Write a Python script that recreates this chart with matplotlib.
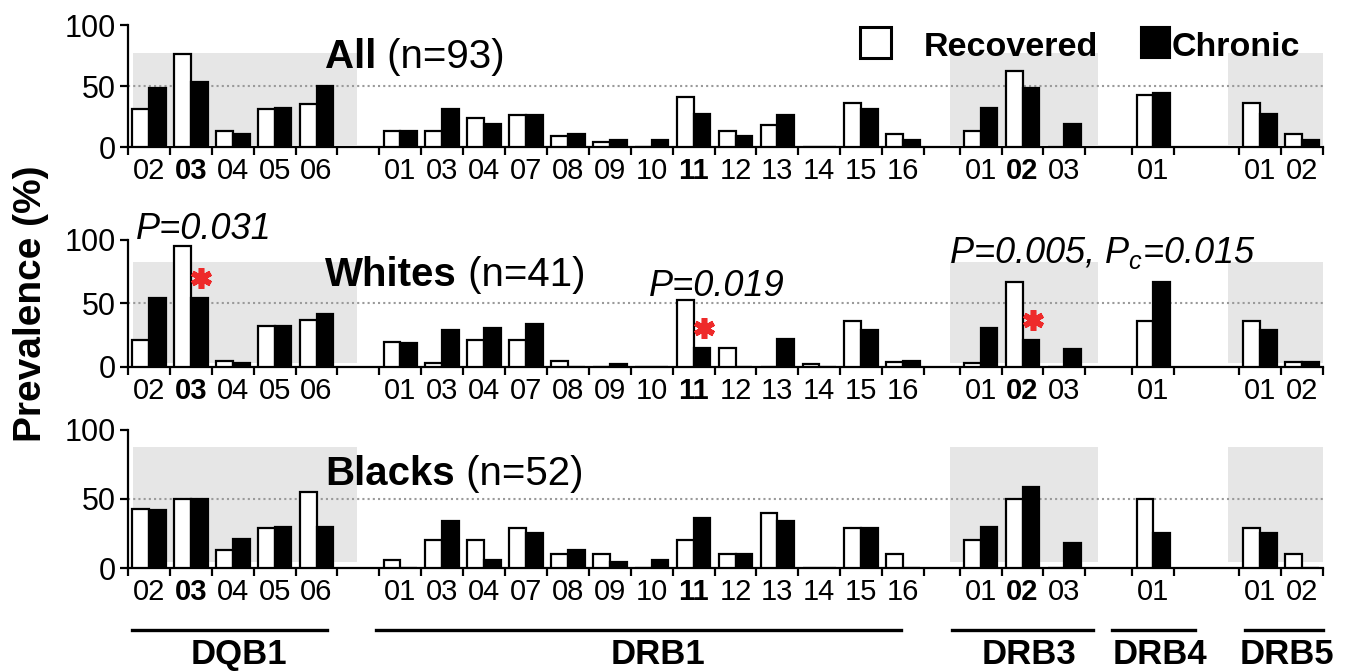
import matplotlib
matplotlib.use("Agg")
import matplotlib.pyplot as plt
from matplotlib.patches import Rectangle
from matplotlib.transforms import blended_transform_factory

plt.rcParams['font.family'] = ['Liberation Sans', 'DejaVu Sans']
plt.rcParams['mathtext.fontset'] = 'custom'
plt.rcParams['mathtext.it'] = 'Liberation Sans:italic'
plt.rcParams['mathtext.rm'] = 'Liberation Sans'

# ---- data ----
genes = ["DQB1", "DRB1", "DRB3", "DRB4", "DRB5"]
alleles = [
    ["02", "03", "04", "05", "06"],
    ["01", "03", "04", "07", "08", "09", "10", "11", "12", "13", "14", "15", "16"],
    ["01", "02", "03"],
    ["01"],
    ["01", "02"],
]
bold_alleles = [("DQB1", "03"), ("DRB1", "11"), ("DRB3", "02")]
shaded_genes = ["DQB1", "DRB3", "DRB5"]

panel_names = ["All", "Whites", "Blacks"]
panel_n = [93, 41, 52]

# values in gene order: DQB1 | DRB1 | DRB3 | DRB4 | DRB5
recovered_all = [31, 76, 13, 31, 35,
                 13, 13, 24, 26, 9, 4, 0, 41, 13, 18, 0, 36, 11,
                 13, 62, 0,
                 43,
                 36, 11]
chronic_all = [48, 53, 11, 32, 50,
               13, 31, 19, 26, 11, 6, 6, 27, 9, 26, 0, 31, 6,
               32, 48, 19,
               44,
               27, 6]
recovered_whites = [21, 95, 5, 32, 37,
                    20, 3, 21, 21, 5, 0, 0, 53, 15, 0, 2.4, 36, 4,
                    3, 67, 0,
                    36,
                    36, 4]
chronic_whites = [54, 54, 3, 32, 42,
                  19, 29, 31, 34, 0, 2.4, 0, 15, 0, 22, 0, 29, 5,
                  31, 21, 14,
                  67,
                  29, 4]
recovered_blacks = [43, 50, 13, 29, 55,
                    6, 20, 20, 29, 10, 10, 0, 20, 10, 40, 0, 29, 10,
                    20, 50, 0,
                    50,
                    29, 10]
chronic_blacks = [42, 50, 21, 30, 30,
                  0, 34, 6, 25, 13, 4, 6, 36, 10, 34, 0, 29, 0,
                  30, 59, 18,
                  25,
                  25, 0]
recovered = [recovered_all, recovered_whites, recovered_blacks]
chronic = [chronic_all, chronic_whites, chronic_blacks]

# significance marks (panel, gene, allele) and p-value notes (panel, gene, text)
stars = [(1, "DQB1", "03"), (1, "DRB1", "11"), (1, "DRB3", "02")]
p_notes = [(1, "DQB1", "P=0.031"), (1, "DRB1", "P=0.019"),
           (1, "DRB3", "P=0.005, $P_c$=0.015")]

# ---- layout ----
gene_gaps = [1.0, 0.85, 1.12, 1.55]
axes_rects = [(0.0946, 0.7809, 0.8832, 0.1818),
              (0.0946, 0.4531, 0.8832, 0.1893),
              (0.0946, 0.1535, 0.8832, 0.2057)]
shade_y = [(2, 77), (3, 83), (4, 88)]
shade_pad = {"DQB1": (0.12, 0.47), "DRB3": (-0.24, 0.3), "DRB5": (-0.26, 0.17)}
title_xy = [(4.7, 65), (4.7, 64), (4.7, 60)]
p_note_xy = [(0.2, 101), (6.43, 56), (-0.25, 82)]
line_pad = [(0.1, -0.25), (-0.07, -0.54), (-0.19, 0.17), (-0.48, 0.5), (0.14, 0.0)]

starts = [0.0]
for i in range(1, len(genes)):
    starts.append(starts[-1] + len(alleles[i - 1]) + gene_gaps[i - 1])
total = starts[-1] + len(alleles[-1])

centers, labels, bounds = [], [], []
for g, s in zip(alleles, starts):
    for j, a in enumerate(g):
        centers.append(s + j + 0.5)
        labels.append(a)
    bounds += [s + k for k in range(len(g) + 1)]


def allele_x(gene, allele):
    gi = genes.index(gene)
    return starts[gi] + alleles[gi].index(allele) + 0.5


def flat_index(gene, allele):
    gi = genes.index(gene)
    return sum(len(a) for a in alleles[:gi]) + alleles[gi].index(allele)


fig = plt.figure(figsize=(13.53, 6.71), dpi=100)
axes = []
bw = 0.4
for p in range(3):
    ax = fig.add_axes(axes_rects[p])
    axes.append(ax)

    for gene in shaded_genes:
        gi = genes.index(gene)
        x0 = starts[gi] + shade_pad[gene][0]
        x1 = starts[gi] + len(alleles[gi]) + shade_pad[gene][1]
        y0, y1 = shade_y[p]
        ax.add_patch(Rectangle((x0, y0), x1 - x0, y1 - y0, facecolor="#e6e6e6",
                               edgecolor="none", zorder=0))

    ax.axhline(50, color="#9a9a9a", ls=(0, (1, 1.5)), lw=1.5, zorder=1)

    xs = [c - bw / 2 for c in centers]
    ax.bar(xs, recovered[p], width=bw, facecolor="white", edgecolor="black",
           linewidth=1.6, zorder=3)
    xs = [c + bw / 2 for c in centers]
    ax.bar(xs, chronic[p], width=bw, facecolor="black", edgecolor="black",
           linewidth=1.6, zorder=3)

    ax.set_xlim(0, total)
    ax.set_ylim(0, 100)
    ax.set_yticks([0, 50, 100])
    ax.set_xticks(bounds)
    ax.set_xticklabels([])
    ax.set_xticks(centers, labels, minor=True)
    ax.tick_params(axis="x", which="major", direction="out", length=6, width=1.6)
    ax.tick_params(axis="x", which="minor", length=0, pad=7, labelsize=21)
    ax.tick_params(axis="y", direction="out", length=6, width=1.6, pad=3, labelsize=22)
    for tl, c in zip(ax.get_xticklabels(minor=True), centers):
        for gene, allele in bold_alleles:
            if abs(allele_x(gene, allele) - c) < 1e-6:
                tl.set_fontweight("bold")
    for side in ["top", "right"]:
        ax.spines[side].set_visible(False)
    for side in ["left", "bottom"]:
        ax.spines[side].set_linewidth(1.6)
    ax.patch.set_alpha(0)

    tx, ty = title_xy[p]
    t = ax.text(tx, ty, panel_names[p], fontsize=29, fontweight="bold", va="baseline")
    ax.annotate(" (n={})".format(panel_n[p]), xy=(1, 0), xycoords=t, va="bottom",
                fontsize=29)

# significance
for (p, gene, allele) in stars:
    x = allele_x(gene, allele) + 0.25
    y = chronic[p][flat_index(gene, allele)] + 16
    axes[p].plot([x], [y], marker=(6, 2, 0), markersize=15, mew=4,
                 color="#ee2a2a", zorder=5, clip_on=False)
for (p, gene, txt), (dx, y) in zip(p_notes, p_note_xy):
    x = starts[genes.index(gene)] + dx
    axes[p].text(x, y, txt, fontsize=26, fontstyle="italic", va="baseline",
                 clip_on=False)

# gene group lines and names under the bottom panel
ax = axes[2]
trans = blended_transform_factory(ax.transData, fig.transFigure)
for gi, gene in enumerate(genes):
    x0 = starts[gi] + line_pad[gi][0]
    x1 = starts[gi] + len(alleles[gi]) + line_pad[gi][1]
    ax.plot([x0, x1], [0.061, 0.061], color="black", lw=2.4, transform=trans,
            clip_on=False)
    ax.text(starts[gi] + len(alleles[gi]) / 2 + 0.15, 0.011, gene, transform=trans,
            ha="center", va="baseline", fontsize=25, fontweight="bold")

# y label
fig.text(0.023, 0.548, "Prevalence (%)", rotation=90, ha="center", va="center",
         fontsize=28, fontweight="bold")

# legend
fig.patches.append(Rectangle((0.6356, 0.9136), 0.0229, 0.0462, facecolor="white",
                             edgecolor="black", linewidth=2.2,
                             transform=fig.transFigure, figure=fig))
fig.patches.append(Rectangle((0.8433, 0.9136), 0.0214, 0.0462, facecolor="black",
                             edgecolor="black", linewidth=1.5,
                             transform=fig.transFigure, figure=fig))
fig.text(0.683, 0.9165, "Recovered", fontsize=24.5, fontweight="bold", va="baseline")
fig.text(0.8662, 0.9165, "Chronic", fontsize=24.5, fontweight="bold", va="baseline")

fig.savefig("out.png", dpi=100)
